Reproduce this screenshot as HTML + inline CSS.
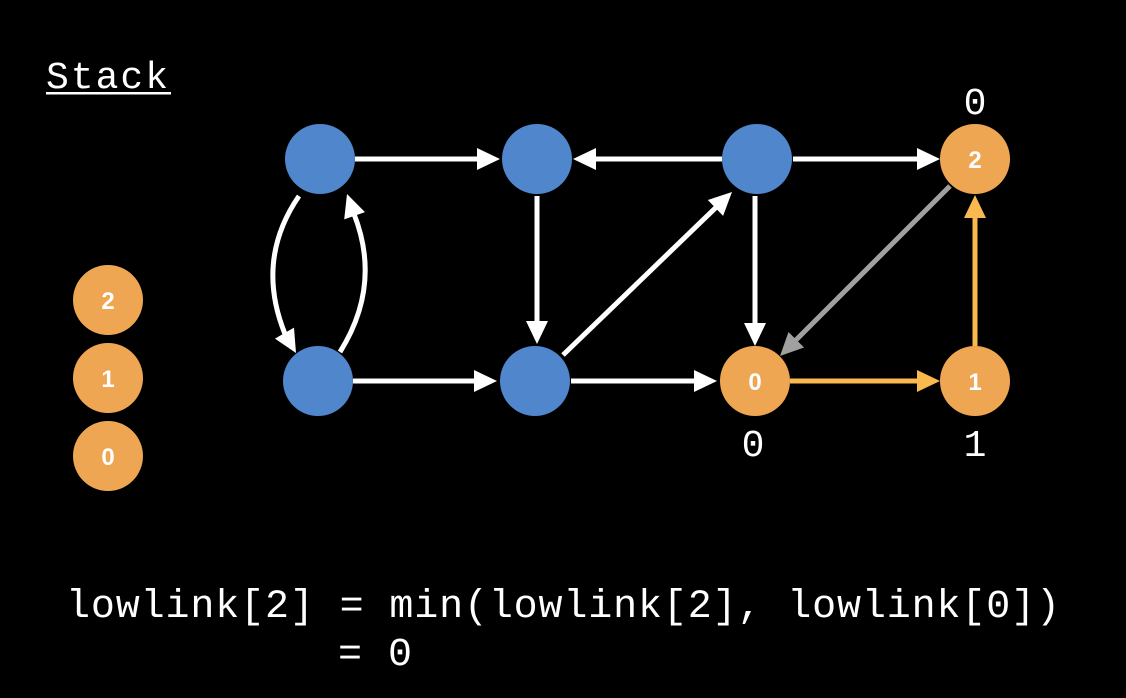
<!DOCTYPE html>
<html><head><meta charset="utf-8"><style>
html,body{margin:0;padding:0;background:#000;}
svg{display:block;}
.mono{font-family:"Liberation Mono","DejaVu Sans Mono",monospace;fill:#fff;}
.lbl{font-family:"Liberation Sans",sans-serif;font-weight:bold;fill:#fff;font-size:24px;text-anchor:middle;}
</style></head><body>
<svg id="g" width="1126" height="698" viewBox="0 0 1126 698">
<rect width="1126" height="698" fill="#000"/>
<text class="mono" x="46" y="88" font-size="38" textLength="122">Stack</text>
<rect x="46" y="92" width="125" height="2.5" fill="#fff"/>
<g id="edges"></g>
<g id="nodes"></g>
<text class="mono" x="975" y="114" font-size="38" text-anchor="middle">0</text>
<text class="mono" x="753" y="456" font-size="38" text-anchor="middle">0</text>
<text class="mono" x="975" y="456" font-size="38" text-anchor="middle">1</text>
<text class="mono" x="66" y="617" font-size="40" textLength="994" lengthAdjust="spacing" xml:space="preserve">lowlink[2] = min(lowlink[2], lowlink[0])</text>
<text class="mono" x="338" y="665" font-size="40" textLength="74" lengthAdjust="spacing" xml:space="preserve">= 0</text>
</svg>
<script>
const NS="http://www.w3.org/2000/svg";
const nodeIds=["a","b","c","d","e","f","g","h","s2","s1","s0"];
const nodeX=[320,537,757,975,318,535,755,975,108,108,108];
const nodeY=[159,159,159,159,381,381,381,381,300,378,456];
const nodeLabels=["","","","2","","","0","1","2","1","0"];
const BLUE="#4F86CC",ORANGE="#EFA653";
const ng=document.getElementById("nodes");
nodeIds.forEach((id,i)=>{
  const c=document.createElementNS(NS,"circle");
  c.setAttribute("cx",nodeX[i]);c.setAttribute("cy",nodeY[i]);c.setAttribute("r",35);
  c.setAttribute("fill",nodeLabels[i]===""?BLUE:ORANGE);
  
  
  ng.appendChild(c);
  if(nodeLabels[i]!==""){
    const t=document.createElementNS(NS,"text");
    t.setAttribute("class","lbl");t.setAttribute("x",nodeX[i]);t.setAttribute("y",nodeY[i]+9);
    t.textContent=nodeLabels[i];
    
    
    ng.appendChild(t);
  }
});
const edgeList=[
 [355,159,500,159,"#fff","a-b"],
 [722,159,573,159,"#fff","c-b"],
 [793,159,940,159,"#fff","c-d"],
 [537,196,537,344,"#fff","b-f"],
 [563,355,732,192,"#fff","f-c"],
 [755,196,755,346,"#fff","c-g"],
 [950,186,780,356,"#A0A0A0","d-g"],
 [353,381,497,381,"#fff","e-f"],
 [571,381,717,381,"#fff","f-g"],
 [790,381,940,381,"#F9B94E","g-h"],
 [975,346,975,195,"#F9B94E","h-d"]
];
const eg=document.getElementById("edges");
function head(x,y,ang,color,name){
  const L=23,W=11;
  const bx=x-L*Math.cos(ang),by=y-L*Math.sin(ang);
  const px=-Math.sin(ang)*W,py=Math.cos(ang)*W;
  const p=document.createElementNS(NS,"polygon");
  p.setAttribute("points",`${x},${y} ${bx+px},${by+py} ${bx-px},${by-py}`);
  p.setAttribute("fill",color);
  
  
  eg.appendChild(p);
  return [bx,by];
}
edgeList.forEach(e=>{
  const [x1,y1,x2,y2,col,name]=e;
  const ang=Math.atan2(y2-y1,x2-x1);
  const [bx,by]=head(x2,y2,ang,col,name);
  const l=document.createElementNS(NS,"line");
  l.setAttribute("x1",x1);l.setAttribute("y1",y1);l.setAttribute("x2",bx+Math.cos(ang)*2);l.setAttribute("y2",by+Math.sin(ang)*2);
  l.setAttribute("stroke",col);l.setAttribute("stroke-width",5);
  
  
  eg.insertBefore(l,eg.firstChild);
});
function curve(d,tx,ty,ang,name){
  const p=document.createElementNS(NS,"path");
  p.setAttribute("d",d);p.setAttribute("fill","none");p.setAttribute("stroke","#fff");p.setAttribute("stroke-width",5);
  
  
  eg.appendChild(p);
  head(tx,ty,ang,"#fff",name);
}
curve("M299,196 Q255,260 285,334",296,353,Math.atan2(19,11),"a-e");
curve("M340,352 Q382,285 354,214",347,194,Math.atan2(-20,-7),"e-a");
</script>
</body></html>
